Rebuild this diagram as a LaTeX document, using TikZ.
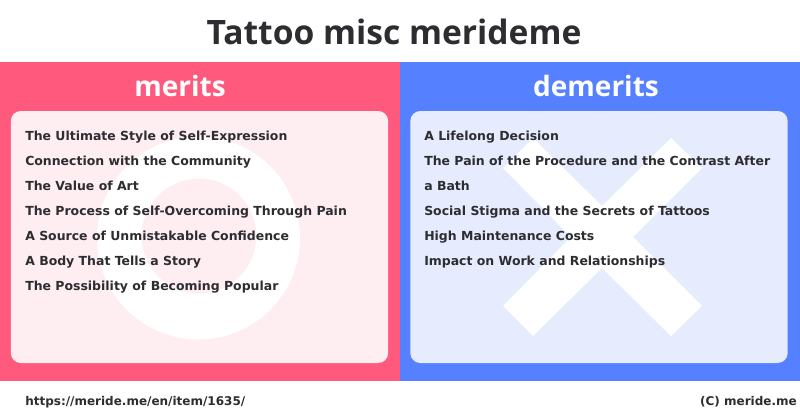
\documentclass[tikz,border=0pt]{standalone}
\usepackage{fontspec}
\setmainfont{DejaVu Sans}
\newfontfamily\headfont{Open Sans}
\definecolor{meritred}{HTML}{FF5A7D}
\definecolor{demeritblue}{HTML}{5580FF}
\definecolor{meritcard}{HTML}{FEEEF2}
\definecolor{demeritcard}{HTML}{E6ECFE}
\definecolor{inktext}{HTML}{2D2D31}
\tikzset{
  panel/.style={draw=none,minimum width=300pt,minimum height=239.25pt,inner sep=0pt,outer sep=0pt},
  card/.style={draw=none,minimum width=283pt,minimum height=189pt,inner sep=0pt,rounded corners=7.5pt},
  item/.style={anchor=base west,inner sep=0pt,text=inktext,font=\fontsize{9.35pt}{12pt}\selectfont\bfseries},
  heading/.style={anchor=base,inner sep=0pt,text=white,font=\headfont\fontsize{21pt}{24pt}\selectfont\bfseries},
  foot/.style={inner sep=0pt,text=inktext,font=\fontsize{9pt}{12pt}\selectfont\bfseries}
}
\begin{document}
\begin{tikzpicture}[x=.75pt,y=-.75pt]
  \useasboundingbox (0,0) rectangle (800,418);
  \fill[white] (0,0) rectangle (800,418);

  \node[anchor=base,inner sep=0pt,text=inktext,font=\headfont\fontsize{25.2pt}{30pt}\selectfont\bfseries] at (394,44) (title) {Tattoo misc merideme};

  \node[panel,fill=meritred] at (200,221.5) (meritpanel) {};
  \node[panel,fill=demeritblue] at (600,221.5) (demeritpanel) {};

  \node[heading] at (180,96) (merits) {merits};
  \node[heading] at (596,96) (demerits) {demerits};

  \node[card,fill=meritcard] at (199.5,237) (meritcard) {};
  \node[card,fill=demeritcard] at (599,237) (demeritcard) {};

  \fill[white,even odd rule] (198.5,238) circle (101.5) (199,236) circle (57.5);
  \fill[white] (533,138) -- (602,206) -- (671,138) -- (702,168) -- (633,237) -- (702,306)
    -- (671,336) -- (602,268) -- (533,336) -- (503,306) -- (571,237) -- (503,168) -- cycle;

  \node[item] at (25,140) (m1) {The Ultimate Style of Self-Expression};
  \node[item] at (25,165) (m2) {Connection with the Community};
  \node[item] at (25,190) (m3) {The Value of Art};
  \node[item] at (25,215) (m4) {The Process of Self-Overcoming Through Pain};
  \node[item] at (25,240) (m5) {A Source of Unmistakable Confidence};
  \node[item] at (25,265) (m6) {A Body That Tells a Story};
  \node[item] at (25,290) (m7) {The Possibility of Becoming Popular};

  \node[item] at (424,140) (d1) {A Lifelong Decision};
  \node[item] at (424,165) (d2) {The Pain of the Procedure and the Contrast After};
  \node[item] at (424,190) (d3) {a Bath};
  \node[item] at (424,215) (d4) {Social Stigma and the Secrets of Tattoos};
  \node[item] at (424,240) (d5) {High Maintenance Costs};
  \node[item] at (424,265) (d6) {Impact on Work and Relationships};

  \node[foot,anchor=base west] at (25,405) (url) {https://meride.me/en/item/1635/};
  \node[foot,anchor=base east] at (797,405) (credit) {(C) meride.me};
\end{tikzpicture}
\end{document}
